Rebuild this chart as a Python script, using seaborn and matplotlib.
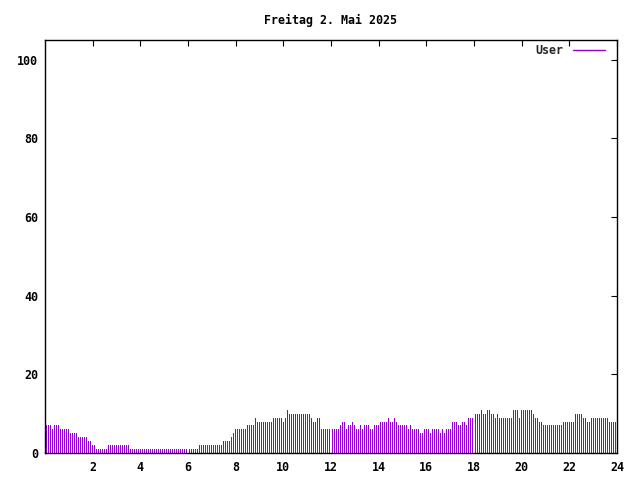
import numpy as np
import pandas as pd
import matplotlib
matplotlib.use("Agg")
import matplotlib.pyplot as plt
import seaborn as sns
from matplotlib.lines import Line2D

title = "Freitag 2. Mai 2025"
series_label = "User"

# 5-minute samples, 00:05 .. 24:00
user_values = [
    7, 7, 7, 6, 7, 7, 7,
    6, 6, 6, 6, 6,
    5, 5, 5, 5,
    4, 4, 4, 4, 4,
    3, 3,
    2, 2,
    1, 1, 1, 1, 1, 1,
    2, 2, 2, 2, 2, 2, 2, 2, 2, 2, 2,
    1, 1, 1, 1, 1, 1, 1, 1, 1, 1, 1, 1, 1, 1, 1, 1, 1, 1,
    1, 1, 1, 1, 1, 1, 1, 1, 1, 1, 1, 1, 1, 1, 1, 1, 1,
    2, 2, 2, 2, 2, 2, 2, 2, 2, 2, 2, 2,
    3, 3, 3, 3,
    4,
    5,
    6, 6, 6, 6, 6, 6,
    7, 7, 7, 7,
    9,
    8, 8, 8, 8, 8, 8, 8, 8,
    9, 9, 9, 9, 9,
    8,
    9,
    11,
    10, 10, 10, 10, 10, 10, 10, 10, 10, 10, 10,
    9,
    8, 8,
    9, 9,
    6, 6, 6, 6, 6, 6,
    # 12:05 ..
    6, 6, 6, 6, 7, 8, 8, 6, 7, 7, 8, 7, 6, 6, 7, 6, 7, 7, 7, 6, 6,
    7, 7, 7, 8, 8, 8, 8, 9, 8, 8, 9, 8, 7, 7, 7, 7, 7, 6, 7,
    6, 6, 6, 6, 5, 5, 6, 6, 6, 5, 6, 6, 6, 6, 5, 6, 5, 6, 6, 6,
    8, 8, 8, 7, 7, 8, 8, 7, 9, 9, 9, 8, 10, 10, 10, 11, 10, 10,
    11, 11, 10, 10, 9, 10, 9, 9, 9, 9, 9, 9, 9, 11, 11, 11, 9,
    # 20:00 ..
    11, 11, 11, 11, 11, 11, 10, 9, 9, 8, 8,
    7, 7, 7, 7, 7, 7, 7, 7, 7, 7,
    8, 8, 8, 8, 8, 8,
    10, 10, 10, 10,
    9, 9, 8, 8,
    9, 9, 9, 9, 9, 9, 9, 9, 9,
    8, 8, 8, 8, 8,
]
sample_minutes = 5
x_ticks = [2, 4, 6, 8, 10, 12, 14, 16, 18, 20, 22, 24]
y_ticks = [0, 20, 40, 60, 80, 100]

hours = (np.arange(len(user_values)) + 1) * sample_minutes / 60.0
df = pd.DataFrame({"hour": hours, "value": user_values})

color = "#9400D3"

sns.set_style("white")
plt.rcParams["font.family"] = ["DejaVu Sans Mono", "DejaVu Sans"]
plt.rcParams["font.weight"] = "bold"

fig = plt.figure(figsize=(6.4, 4.8), dpi=100)
ax = fig.add_axes([45 / 640, 1 - 453 / 480, (617 - 45) / 640, (453 - 40) / 480])

sns.barplot(data=df, x="hour", y="value", native_scale=True, width=0.5,
            color=color, linewidth=0, saturation=1, ax=ax, errorbar=None)
for p in ax.patches:
    p.set_antialiased(False)
    p.set_facecolor(color)

ax.set_xlim(0, 24)
ax.set_ylim(0, 105)
ax.set_xticks(x_ticks)
ax.set_yticks(y_ticks)
ax.set_xticklabels([str(t) for t in x_ticks])
ax.set_yticklabels([str(t) for t in y_ticks])
ax.set_xlabel("")
ax.set_ylabel("")

for s in ax.spines.values():
    s.set_visible(True)
    s.set_color("black")
    s.set_linewidth(1.0)

ax.tick_params(axis="both", which="major", direction="in", length=4,
               width=0.8, color="black", labelsize=8.4,
               top=True, right=True, labelcolor="black")
ax.tick_params(axis="x", pad=6)
ax.tick_params(axis="y", pad=5)
for lab in ax.get_xticklabels() + ax.get_yticklabels():
    lab.set_fontweight("bold")

fig.text(331 / 640, 1 - 20 / 480, title, ha="center", va="center",
         fontsize=8.4, fontweight="bold", color="black")

handle = Line2D([], [], color=color, linewidth=1.0)
ax.legend([handle], [series_label], loc="upper right",
          bbox_to_anchor=(605 / 640, 1 - 44.5 / 480),
          bbox_transform=fig.transFigure, frameon=False, markerfirst=False,
          handlelength=2.75, handletextpad=0.8, borderpad=0, borderaxespad=0,
          prop={"family": "DejaVu Sans Mono", "weight": "bold", "size": 8.4})

fig.savefig("out.png", dpi=100)
